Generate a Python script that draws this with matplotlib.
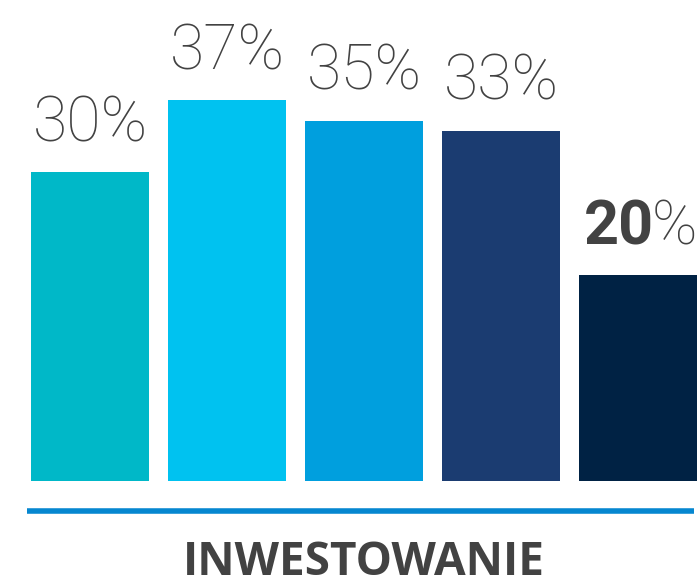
import matplotlib.pyplot as plt

# data
labels = ['30', '37', '35', '33', '20']
heights = [30, 37, 35, 34, 20]
colors = ['#00B8C8', '#00C2F0', '#009FDE', '#1B3C71', '#002244']
category = 'INWESTOWANIE'

txt_color = '#424242'

fig = plt.figure(figsize=(6.97, 5.86), dpi=100)
ax = fig.add_axes([0, 0, 1, 1])
ax.set_xlim(-0.657, 4.43)
ax.set_ylim(-10.19, 46.7)
ax.axis('off')

x = list(range(len(heights)))
ax.bar(x, heights, width=0.86, color=colors)

fig.canvas.draw()
r = fig.canvas.get_renderer()
for i, (lab, h) in enumerate(zip(labels, heights)):
    y = h + 3.0
    if i == len(labels) - 1:
        # last label: bold number, light percent sign
        t1 = ax.text(i, y, lab, fontsize=44, family='Roboto', fontweight='bold',
                     color=txt_color, ha='left', va='baseline')
        t2 = ax.text(i, y, '%', fontsize=44, family='Roboto', fontweight='light',
                     color=txt_color, ha='left', va='baseline')
        w1 = t1.get_window_extent(r).width
        w2 = t2.get_window_extent(r).width
        inv = ax.transData.inverted()
        x0 = ax.transData.transform((i, y))[0] - (w1 + w2) / 2 + 4
        t1.set_x(inv.transform((x0, 0))[0])
        t2.set_x(inv.transform((x0 + w1 - 3, 0))[0])
    else:
        ax.text(i, y, lab + '%', fontsize=45, family='Roboto', fontweight='light',
                color=txt_color, ha='center', va='baseline')

ax.plot([-0.46, 4.41], [-2.91, -2.91], color='#0687D0', lw=4, solid_capstyle='butt')
ax.text(2.0, -9.1, category, fontsize=33, family='Open Sans', fontweight='bold',
        color=txt_color, ha='center', va='baseline')

fig.savefig('out.png', dpi=100)
